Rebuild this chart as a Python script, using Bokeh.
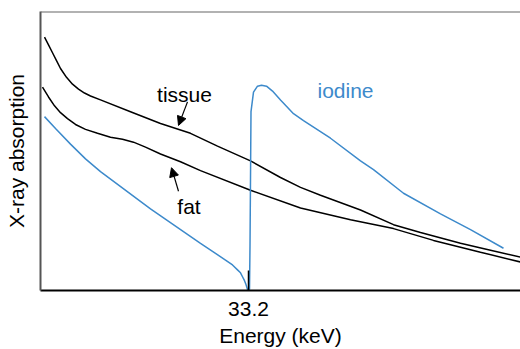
from bokeh.plotting import figure
from bokeh.models import Range1d, FixedTicker, Span, Arrow, NormalHead, Label
from bokeh.embed import file_html
from bokeh.resources import INLINE

# Energy (keV) and X-ray absorption (arbitrary units)
tissue_energy = [23.0, 23.2, 23.4, 23.6, 23.8, 24.1, 24.4, 24.7, 25.0, 25.3, 25.8,
                 27.3, 28.8, 30.3, 31.65, 33.3, 34.8, 35.8, 36.8, 38.8, 40.45,
                 41.8, 43.8, 45.3, 46.8]
tissue_absorption = [1.29, 1.25, 1.21, 1.17, 1.13, 1.085, 1.05, 1.025, 1.005, 0.99, 0.97,
                     0.91, 0.85, 0.80, 0.735, 0.66, 0.575, 0.525, 0.485, 0.41, 0.335,
                     0.295, 0.24, 0.205, 0.17]

fat_energy = [22.9, 23.2, 23.5, 23.8, 24.15, 24.55, 25.05, 25.65, 26.3, 26.9, 27.45,
              28.05, 28.8, 29.8, 30.8, 33.3, 35.8, 38.3, 40.45, 42.45, 44.8, 46.8]
fat_absorption = [1.035, 0.985, 0.94, 0.905, 0.875, 0.845, 0.82, 0.80, 0.78, 0.77, 0.755,
                  0.73, 0.695, 0.655, 0.61, 0.51, 0.42, 0.36, 0.315, 0.255, 0.195, 0.145]

iodine_energy = [23.0, 23.55, 24.3, 25.05, 25.8, 28.3, 30.8, 32.05, 32.4, 32.65, 32.8,
                 32.9, 33.0, 33.075, 33.15, 33.25, 33.275, 33.325, 33.45, 33.65, 33.85,
                 34.1, 34.4, 34.8, 35.45, 35.95, 37.3, 38.8, 39.45, 40.95, 42.8, 44.3, 45.95]
iodine_absorption = [0.885, 0.825, 0.745, 0.67, 0.605, 0.415, 0.24, 0.155, 0.13, 0.105, 0.09,
                     0.07, 0.05, 0.03, 0.005, 0.005, 0.225, 0.91, 1.01, 1.04, 1.045,
                     1.04, 1.015, 0.97, 0.90, 0.865, 0.775, 0.66, 0.615, 0.495, 0.39, 0.31, 0.215]

k_edge = [33.2]
x_tick_labels = {33.2: "33.2"}

FONT = "Liberation Sans"
BLUE = "#3d8acb"

p = figure(width=520, height=349, output_backend="svg", toolbar_location=None,
           x_range=Range1d(22.8, 46.8), y_range=Range1d(0, 1.42),
           min_border_left=40, min_border_right=0, min_border_top=11, min_border_bottom=54)
p.outline_line_color = None
p.xgrid.visible = False
p.ygrid.visible = False

p.line(tissue_energy, tissue_absorption, line_color="black", line_width=1.5)
p.line(fat_energy, fat_absorption, line_color="black", line_width=1.5)
p.line(iodine_energy, iodine_absorption, line_color=BLUE, line_width=1.5)

# axes
p.xaxis.ticker = FixedTicker(ticks=k_edge)
p.xaxis.major_label_overrides = x_tick_labels
p.xaxis.minor_tick_line_color = None
p.xaxis.major_tick_in = 20
p.xaxis.major_tick_out = 0
p.xaxis.major_tick_line_color = "black"
p.xaxis.major_tick_line_width = 1.5
p.xaxis.axis_line_color = "black"
p.xaxis.axis_line_width = 2
p.xaxis.major_label_text_font = FONT
p.xaxis.major_label_text_font_size = "21px"
p.xaxis.major_label_text_color = "black"
p.xaxis.major_label_standoff = 11
p.xaxis.axis_label = "Energy (keV)"
p.xaxis.axis_label_text_font = FONT
p.xaxis.axis_label_text_font_size = "21px"
p.xaxis.axis_label_text_font_style = "normal"
p.xaxis.axis_label_text_color = "black"
p.xaxis.axis_label_standoff = 5

p.yaxis.ticker = FixedTicker(ticks=[])
p.yaxis.minor_tick_line_color = None
p.yaxis.major_tick_line_color = None
p.yaxis.axis_line_color = "#555555"
p.yaxis.axis_line_width = 2
p.yaxis.axis_label = "X-ray absorption"
p.yaxis.axis_label_text_font = FONT
p.yaxis.axis_label_text_font_size = "21px"
p.yaxis.axis_label_text_font_style = "normal"
p.yaxis.axis_label_text_color = "black"
p.yaxis.axis_label_standoff = 13

# top border
p.add_layout(Span(location=p.y_range.end, dimension="width", line_color="#666666", line_width=2))

# labels
p.add_layout(Label(x=30.0, y=1.0, text="tissue", text_font=FONT, text_font_size="21px",
                   text_align="center", text_baseline="alphabetic", text_color="black"))
p.add_layout(Label(x=30.225, y=0.43, text="fat", text_font=FONT, text_font_size="21px",
                   text_align="center", text_baseline="alphabetic", text_color="black"))
p.add_layout(Label(x=38.05, y=1.02, text="iodine", text_font=FONT, text_font_size="21px",
                   text_align="center", text_baseline="alphabetic", text_color=BLUE))

# arrows
p.add_layout(Arrow(x_start=30.15, y_start=0.96, x_end=29.7, y_end=0.84, line_width=1.2,
                   end=NormalHead(size=9, fill_color="black", line_color="black")))
p.add_layout(Arrow(x_start=29.7, y_start=0.505, x_end=29.35, y_end=0.625, line_width=1.2,
                   end=NormalHead(size=9, fill_color="black", line_color="black")))

open("out.html", "w").write(file_html(p, INLINE))
